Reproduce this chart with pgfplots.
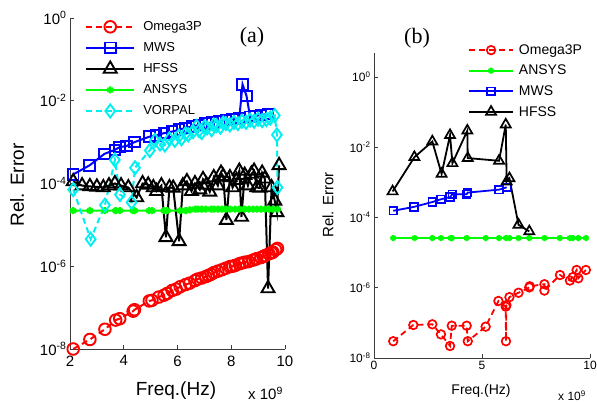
\documentclass[border=0pt]{standalone}
\usepackage{fontspec}
\setmainfont{Liberation Sans}
\newfontfamily\timesfont{Liberation Serif}
\usepackage{pgfplots}
\pgfplotsset{compat=1.18}
\definecolor{mred}{RGB}{255,0,0}
\definecolor{mblue}{RGB}{0,0,255}
\definecolor{mgreen}{RGB}{0,255,0}
\definecolor{mcyan}{RGB}{0,240,240}
\definecolor{axgray}{RGB}{60,60,60}

\pgfplotsset{
  relerr/.style={
    scale only axis, axis lines=left,
    axis line style={-, axgray, line width=0.8pt},
    tick style={axgray, line width=0.8pt}, major tick length=4pt,
    tick align=inside, yminorticks=false, clip=false,
    legend cell align=left,
    ytick={1e-8,1e-6,1e-4,1e-2,1},
    yticklabels={10\textsuperscript{-8},10\textsuperscript{-6},10\textsuperscript{-4},10\textsuperscript{-2},10\textsuperscript{0}},
  },
  mdash/.style={dash pattern=on 6pt off 4pt},
}

\begin{document}
\begin{tikzpicture}[x=1pt,y=1pt]
\useasboundingbox (0,0) rectangle (597,403);

% ---------------- panel (a)
\begin{axis}[ymode=log, relerr,
  at={(70pt,54pt)}, anchor=south west,
  width=215pt, height=331pt,
  xmin=2, xmax=10, ymin=1e-8, ymax=1,
  xtick={2,4,6,8,10}, xticklabels={2,4,6,8,10},
  tick label style={font=\fontsize{15}{17}\selectfont},
  xticklabel style={yshift=-3pt},
  legend image code/.code={\draw[mark repeat=2,mark phase=2,#1] plot coordinates {(0pt,0pt) (24pt,0pt) (48pt,0pt)};},
  legend style={draw=none, fill=none, at={(axis description cs:0.07,0.996)}, anchor=north west,
    font=\fontsize{13}{15}\selectfont, row sep=6.4pt, column sep=6pt, inner sep=0pt},
]
\addplot[mred, mdash, line width=2pt, mark=o, mark size=5.8pt, mark options={solid, line width=1.9pt}] coordinates {
(2.12,1.0e-8) (2.74,1.7e-8) (3.30,3.0e-8) (3.70,5.0e-8) (3.85,5.4e-8) (4.35,8.2e-8) (4.40,8.9e-8)
(4.95,1.45e-7) (5.05,1.5e-7) (5.30,1.8e-7) (5.50,2.0e-7) (5.62,2.2e-7) (5.80,2.6e-7) (5.95,2.8e-7)
(6.10,3.2e-7) (6.30,3.6e-7) (6.45,3.9e-7) (6.65,4.5e-7) (6.75,4.9e-7) (6.90,5.2e-7) (7.05,5.6e-7)
(7.15,6.0e-7) (7.25,6.4e-7) (7.35,7.0e-7) (7.50,7.6e-7) (7.65,8.2e-7) (7.80,9.0e-7) (7.95,9.8e-7)
(8.05,1.0e-6) (8.15,1.05e-6) (8.30,1.15e-6) (8.40,1.2e-6) (8.50,1.25e-6) (8.65,1.30e-6) (8.80,1.40e-6)
(8.90,1.48e-6) (8.95,1.52e-6) (9.10,1.62e-6) (9.20,1.72e-6) (9.25,1.80e-6) (9.40,2.0e-6) (9.50,2.1e-6)
(9.55,2.2e-6) (9.65,2.5e-6) (9.72,2.7e-6)
};
\addlegendentry{Omega3P}
\addplot[mblue, line width=2pt, mark=square, mark size=5.3pt, mark options={line width=1.9pt}] coordinates {
(2.12,1.66e-4) (2.73,2.75e-4) (3.28,5.2e-4) (3.67,6.5e-4) (3.85,7.6e-4) (4.10,8.0e-4) (4.40,1.0e-3)
(4.95,1.35e-3) (5.20,1.45e-3) (5.50,1.65e-3) (5.80,1.8e-3) (6.05,2.0e-3) (6.30,2.2e-3) (6.55,2.4e-3)
(6.80,2.6e-3) (7.05,2.8e-3) (7.30,3.0e-3) (7.55,3.2e-3) (7.80,3.4e-3) (8.05,3.6e-3) (8.30,3.8e-3)
(8.42,2.5e-2) (8.57,1.3e-2) (8.70,4.1e-3) (8.90,4.3e-3) (9.10,4.5e-3) (9.36,4.8e-3)
};
\addlegendentry{MWS}
\addplot[black, line width=2pt, mark=triangle, mark size=7.5pt, mark options={line width=1.9pt}] coordinates {
(2.12,1.12e-4) (2.45,8.9e-5) (2.74,8.5e-5) (3.00,8.3e-5) (3.24,8.0e-5) (3.45,8.9e-5) (3.67,1.0e-4)
(3.90,8.9e-5) (4.17,8.0e-5) (4.48,4.6e-5) (4.70,1.0e-4) (4.91,9.3e-5) (5.10,8.0e-5) (5.22,6.5e-5)
(5.40,8.9e-5) (5.57,5.0e-6) (5.70,8.0e-5) (5.84,7.8e-5) (6.06,4.0e-6) (6.20,8.9e-5) (6.35,1.12e-4)
(6.52,6.5e-5) (6.65,1.0e-4) (6.83,7.1e-5) (6.95,1.26e-4) (7.08,9.3e-5) (7.20,6.3e-5) (7.35,1.4e-4)
(7.50,8.9e-5) (7.62,1.8e-4) (7.70,1.5e-4) (7.82,1.3e-5) (7.95,1.4e-4) (8.05,8.0e-5) (8.20,1.2e-4)
(8.30,2.0e-4) (8.38,1.55e-5) (8.50,1.6e-4) (8.62,8.9e-5) (8.75,1.7e-4) (8.85,2.0e-4) (8.95,8.0e-5)
(9.06,7.8e-5) (9.15,1.8e-4) (9.25,1.3e-4) (9.37,2.9e-7) (9.50,8.0e-5) (9.62,3.8e-5) (9.70,2.0e-5)
(9.78,2.75e-4)
};
\addlegendentry{HFSS}
\addplot[mgreen, line width=2pt, mark=asterisk, mark size=3.5pt, mark options={line width=2.4pt}] coordinates {
(2.12,2.2e-5) (2.74,2.2e-5) (3.30,2.2e-5) (3.70,2.2e-5) (3.85,2.2e-5) (4.35,2.2e-5) (4.40,2.2e-5)
(4.95,2.2e-5) (5.05,2.2e-5) (5.50,2.2e-5) (5.62,2.2e-5) (6.10,2.2e-5) (6.30,2.2e-5) (6.45,2.3e-5)
(6.65,2.4e-5) (6.75,2.4e-5) (6.90,2.4e-5) (7.05,2.4e-5) (7.25,2.4e-5) (7.35,2.4e-5) (7.50,2.4e-5)
(7.65,2.4e-5) (7.80,2.4e-5) (7.95,2.4e-5) (8.15,2.4e-5) (8.30,2.4e-5) (8.50,2.4e-5) (8.65,2.4e-5)
(8.80,2.4e-5) (8.95,2.4e-5) (9.10,2.4e-5) (9.25,2.4e-5) (9.40,2.4e-5) (9.55,2.4e-5) (9.72,2.4e-5)
};
\addlegendentry{ANSYS}
\addplot[mcyan, mdash, line width=2pt, mark=diamond, mark size=6.5pt, mark options={solid, line width=1.9pt}] coordinates {
(2.12,7.1e-5) (2.77,4.5e-6) (3.30,3.0e-5) (3.67,3.7e-4) (3.86,5.4e-5) (4.29,3.5e-5) (4.42,2.4e-4)
(4.97,6.3e-4) (5.16,1.1e-3) (5.35,9.0e-4) (5.53,8.5e-4) (5.70,1.2e-3) (5.90,1.1e-3) (6.05,1.4e-3)
(6.15,1.2e-3) (6.30,1.6e-3) (6.40,1.5e-3) (6.58,1.8e-3) (6.71,2.4e-3) (6.80,1.9e-3) (6.90,1.7e-3)
(7.00,2.3e-3) (7.10,2.2e-3) (7.27,2.0e-3) (7.35,2.6e-3) (7.45,2.5e-3) (7.60,2.3e-3) (7.70,2.9e-3)
(7.80,2.8e-3) (7.95,2.6e-3) (8.10,3.0e-3) (8.25,2.8e-3) (8.40,3.2e-3) (8.55,3.0e-3) (8.70,3.4e-3)
(8.85,3.2e-3) (9.00,3.6e-3) (9.15,3.3e-3) (9.31,3.5e-3) (9.45,3.8e-3) (9.62,4.4e-3) (9.70,1.5e-3)
(9.72,8.0e-5)
};
\addlegendentry{VORPAL}
\end{axis}

% ---------------- panel (b)
\begin{axis}[ymode=log, relerr,
  at={(374pt,45pt)}, anchor=south west,
  width=216pt, height=305pt,
  xmin=0, xmax=10, ymin=1e-8, ymax=4.8,
  xtick={0,5,10}, xticklabels={0,5,10},
  tick label style={font=\fontsize{12}{14}\selectfont},
  legend image code/.code={\draw[mark repeat=2,mark phase=2,#1] plot coordinates {(0pt,0pt) (22pt,0pt) (44pt,0pt)};},
  legend style={draw=none, fill=none, at={(axis description cs:0.435,1.035)}, anchor=north west,
    font=\fontsize{14}{16}\selectfont, row sep=5.3pt, column sep=3pt, inner sep=0pt},
]
\addplot[mred, mdash, line width=1.8pt, mark=o, mark size=4.3pt, mark options={solid, line width=1.7pt}] coordinates {
(0.89,3.0e-8) (1.82,8.7e-8) (2.70,9.1e-8) (3.10,4.7e-8) (3.52,2.2e-8) (3.60,8.3e-8) (4.29,8.3e-8)
(4.34,3.0e-8) (5.17,7.8e-8) (5.76,4.2e-7) (6.10,2.9e-7) (6.11,3.0e-8) (6.13,3.2e-7) (6.27,5.4e-7)
(6.69,7.2e-7) (7.19,1.02e-6) (7.21,1.1e-6) (7.89,1.26e-6) (7.89,8.3e-7) (8.61,2.3e-6) (9.07,1.6e-6)
(9.20,2.0e-6) (9.38,3.2e-6) (9.46,1.86e-6) (9.81,3.2e-6)
};
\addlegendentry{Omega3P}
\addplot[mgreen, line width=1.8pt, mark=asterisk, mark size=3pt, mark options={line width=2.2pt}] coordinates {
(0.89,2.6e-5) (1.88,2.6e-5) (2.70,2.6e-5) (3.10,2.6e-5) (3.55,2.6e-5) (3.60,2.6e-5) (4.29,2.6e-5)
(5.17,2.6e-5) (5.79,2.6e-5) (6.11,2.6e-5) (6.27,2.6e-5) (6.69,2.6e-5) (7.19,2.6e-5) (7.89,2.6e-5)
(8.60,2.6e-5) (9.07,2.6e-5) (9.20,2.6e-5) (9.46,2.6e-5) (9.81,2.6e-5)
};
\addlegendentry{ANSYS}
\addplot[mblue, line width=1.8pt, mark=square, mark size=3.8pt, mark options={line width=1.7pt}] coordinates {
(0.89,1.55e-4) (1.85,2.0e-4) (2.70,2.75e-4) (3.10,3.3e-4) (3.52,3.8e-4) (3.63,4.6e-4) (4.29,4.6e-4)
(4.34,5.1e-4) (5.79,6.2e-4) (6.14,7.2e-4)
};
\addlegendentry{MWS}
\addplot[black, line width=1.8pt, mark=triangle, mark size=5.8pt, mark options={line width=1.7pt}] coordinates {
(0.86,5.5e-4) (1.87,5.2e-3) (2.70,1.45e-2) (3.13,1.74e-3) (3.52,2.2e-2) (3.63,3.5e-3) (4.32,2.95e-2)
(4.34,4.9e-3) (5.79,4.1e-3) (6.10,4.4e-2) (6.14,1.05e-3) (6.27,1.3e-3) (6.69,6.2e-5) (7.19,4.0e-5)
};
\addlegendentry{HFSS}
\end{axis}

% ---------------- labels
\node[font=\timesfont\fontsize{22}{24}\selectfont] at (252,366) {(a)};
\node[font=\timesfont\fontsize{22}{24}\selectfont] at (417,365) {(b)};
\node[rotate=90, font=\fontsize{19}{21}\selectfont] at (17,218) {Rel. Error};
\node[font=\fontsize{19}{21}\selectfont] at (176,12) {Freq.(Hz)};
\node[anchor=base west, inner sep=0pt, font=\fontsize{15}{17}\selectfont] at (248,3) {x 10\textsuperscript{9}};
\node[rotate=90, font=\fontsize{15}{17}\selectfont] at (328,198) {Rel. Error};
\node[font=\fontsize{14}{16}\selectfont] at (481,12) {Freq.(Hz)};
\node[anchor=base west, inner sep=0pt, font=\fontsize{12}{14}\selectfont] at (558,2) {x 10\textsuperscript{9}};
\end{tikzpicture}
\end{document}
